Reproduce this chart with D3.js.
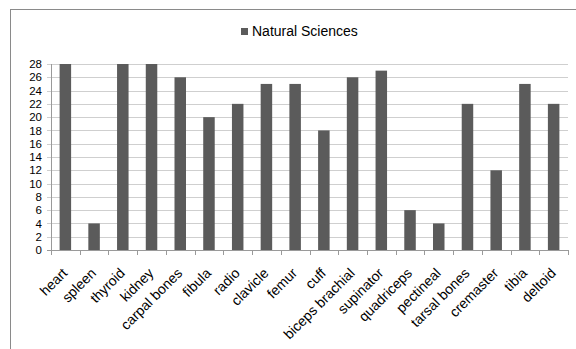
<!DOCTYPE html>
<html><head><meta charset="utf-8">
<script src="https://cdn.jsdelivr.net/npm/d3@7"></script>
<style>body{margin:0;background:#fff}svg{display:block}text{font-family:"Liberation Sans",Arial,sans-serif;fill:#000}</style>
</head><body>
<script>
const categories = ["heart","spleen","thyroid","kidney","carpal bones","fibula","radio","clavicle","femur","cuff","biceps brachial","supinator","quadriceps","pectineal","tarsal bones","cremaster","tibia","deltoid"];
const seriesName = "Natural Sciences";
const values = [28,4,28,28,26,20,22,25,25,18,26,27,6,4,22,12,25,22];
const yTicks = [0,2,4,6,8,10,12,14,16,18,20,22,24,26,28];

const W=576,H=349;
const svg=d3.select("body").append("svg").attr("width",W).attr("height",H);
svg.append("rect").attr("x",10.5).attr("y",9.5).attr("width",W).attr("height",H).attr("fill","#fff").attr("stroke","#8a8a8a");

const m={l:51,r:568,t:64,b:250};
const x=d3.scaleBand().domain(categories).range([m.l,m.r]).paddingInner(0).paddingOuter(0);
const y=d3.scaleLinear().domain([0,28]).range([m.b,m.t]);

// gridlines
svg.append("g").selectAll("line").data(yTicks).join("line")
 .attr("x1",m.l-4).attr("x2",m.r).attr("y1",d=>Math.round(y(d))+0.5).attr("y2",d=>Math.round(y(d))+0.5)
 .attr("stroke",d=>d===0?"#9a9a9a":"#cfcfcf");
// y axis line
svg.append("line").attr("x1",m.l+0.5).attr("x2",m.l+0.5).attr("y1",y(28)).attr("y2",y(0)).attr("stroke","#9a9a9a");
// y labels
svg.append("g").selectAll("text").data(yTicks).join("text")
 .attr("x",42).attr("y",d=>y(d)).attr("dy","0.36em").attr("text-anchor","end")
 .style("font-size","11.5px")
 .text(d=>d);
// x ticks
const bounds=categories.map(c=>x(c)).concat([m.r]);
svg.append("g").selectAll("line").data(bounds).join("line")
 .attr("x1",d=>Math.round(d)+0.5).attr("x2",d=>Math.round(d)+0.5).attr("y1",m.b).attr("y2",m.b+5).attr("stroke","#9a9a9a");
// bars
const bw=11.5;
svg.append("g").selectAll("rect").data(values).join("rect")
 .attr("x",(d,i)=>x(categories[i])+x.bandwidth()/2-bw/2).attr("width",bw)
 .attr("y",d=>y(d)).attr("height",d=>y(0)-y(d)).attr("fill","#5b5b5b");
// x labels
svg.append("g").selectAll("text").data(categories).join("text")
 .attr("transform",d=>`translate(${x(d)+x.bandwidth()/2+3},${m.b+24}) rotate(-45)`)
 .attr("text-anchor","end").style("font-size","14px").text(d=>d);
// legend
svg.append("rect").attr("x",241).attr("y",28).attr("width",7).attr("height",7).attr("fill","#5b5b5b");
svg.append("text").attr("x",252).attr("y",36).style("font-size","14px").text(seriesName);
</script>
</body></html>
